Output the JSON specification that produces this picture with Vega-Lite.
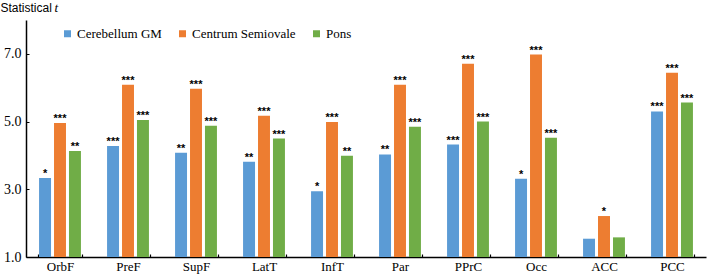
{
  "$schema": "https://vega.github.io/schema/vega-lite/v6.json",
  "width": 680,
  "height": 237,
  "autosize": {"type": "none"},
  "padding": {"left": 26, "top": 20, "right": 3, "bottom": 22},
  "background": "white",
  "config": {
    "view": {"stroke": null}
  },
  "data": {
    "values": [
      {"region": "OrbF", "group": "Cerebellum GM", "value": 3.33, "sig": "*"},
      {"region": "OrbF", "group": "Centrum Semiovale", "value": 4.96, "sig": "***"},
      {"region": "OrbF", "group": "Pons", "value": 4.13, "sig": "**"},
      {"region": "PreF", "group": "Cerebellum GM", "value": 4.28, "sig": "***"},
      {"region": "PreF", "group": "Centrum Semiovale", "value": 6.09, "sig": "***"},
      {"region": "PreF", "group": "Pons", "value": 5.05, "sig": "***"},
      {"region": "SupF", "group": "Cerebellum GM", "value": 4.08, "sig": "**"},
      {"region": "SupF", "group": "Centrum Semiovale", "value": 5.97, "sig": "***"},
      {"region": "SupF", "group": "Pons", "value": 4.88, "sig": "***"},
      {"region": "LatT", "group": "Cerebellum GM", "value": 3.81, "sig": "**"},
      {"region": "LatT", "group": "Centrum Semiovale", "value": 5.17, "sig": "***"},
      {"region": "LatT", "group": "Pons", "value": 4.5, "sig": "***"},
      {"region": "InfT", "group": "Cerebellum GM", "value": 2.94, "sig": "*"},
      {"region": "InfT", "group": "Centrum Semiovale", "value": 4.99, "sig": "***"},
      {"region": "InfT", "group": "Pons", "value": 3.99, "sig": "**"},
      {"region": "Par", "group": "Cerebellum GM", "value": 4.03, "sig": "**"},
      {"region": "Par", "group": "Centrum Semiovale", "value": 6.09, "sig": "***"},
      {"region": "Par", "group": "Pons", "value": 4.85, "sig": "***"},
      {"region": "PPrC", "group": "Cerebellum GM", "value": 4.32, "sig": "***"},
      {"region": "PPrC", "group": "Centrum Semiovale", "value": 6.71, "sig": "***"},
      {"region": "PPrC", "group": "Pons", "value": 5.0, "sig": "***"},
      {"region": "Occ", "group": "Cerebellum GM", "value": 3.31, "sig": "*"},
      {"region": "Occ", "group": "Centrum Semiovale", "value": 6.98, "sig": "***"},
      {"region": "Occ", "group": "Pons", "value": 4.52, "sig": "***"},
      {"region": "ACC", "group": "Cerebellum GM", "value": 1.54, "sig": ""},
      {"region": "ACC", "group": "Centrum Semiovale", "value": 2.21, "sig": "*"},
      {"region": "ACC", "group": "Pons", "value": 1.58, "sig": ""},
      {"region": "PCC", "group": "Cerebellum GM", "value": 5.3, "sig": "***"},
      {"region": "PCC", "group": "Centrum Semiovale", "value": 6.44, "sig": "***"},
      {"region": "PCC", "group": "Pons", "value": 5.56, "sig": "***"}
    ]
  },
  "encoding": {
    "x": {
      "field": "region",
      "type": "nominal",
      "sort": null,
      "scale": {"paddingInner": 0.34, "paddingOuter": 0.17},
      "axis": {
        "title": null,
        "labelAngle": 0,
        "labelFont": "Liberation Serif",
        "labelFontSize": 13,
        "labelColor": "black",
        "labelPadding": 6,
        "domainColor": "black",
        "domainWidth": 1.5,
        "tickColor": "black",
        "tickBand": "extent",
        "tickSize": -3,
        "tickWidth": 1.2
      }
    },
    "xOffset": {
      "field": "group",
      "type": "nominal",
      "sort": null,
      "scale": {"paddingInner": 0.2, "paddingOuter": 0.1}
    },
    "y": {
      "field": "value",
      "type": "quantitative",
      "scale": {"domain": [1, 8], "zero": false, "nice": false}
    }
  },
  "layer": [
    {
      "mark": {"type": "bar"},
      "encoding": {
        "y": {
          "field": "value",
          "type": "quantitative",
          "axis": {
            "values": [1, 3, 5, 7],
            "format": ".1f",
            "grid": false,
            "labelFont": "Liberation Serif",
            "labelFontSize": 14,
            "labelColor": "black",
            "labelPadding": 8,
            "domainColor": "black",
            "domainWidth": 1.5,
            "tickColor": "black",
            "tickSize": -3,
            "title": "Statistical",
            "titleFont": "Liberation Sans",
            "titleFontWeight": "normal",
            "titleFontSize": 12,
            "titleColor": "black",
            "titleAngle": 0,
            "titleAlign": "left",
            "titleBaseline": "alphabetic",
            "titleX": -26,
            "titleY": -9
          }
        },
        "y2": {"datum": 1},
        "color": {
          "field": "group",
          "type": "nominal",
          "sort": null,
          "scale": {
            "domain": ["Cerebellum GM", "Centrum Semiovale", "Pons"],
            "range": ["#5B9BD5", "#ED7D31", "#70AD47"]
          },
          "legend": {
            "title": null,
            "orient": "none",
            "legendX": 35,
            "legendY": 7,
            "direction": "horizontal",
            "symbolType": "square",
            "symbolSize": 49,
            "symbolStrokeWidth": 0,
            "labelFont": "Liberation Serif",
            "labelFontSize": 13,
            "labelColor": "black",
            "labelOffset": 3,
            "columnPadding": 14,
            "labelLimit": 200
          }
        }
      }
    },
    {
      "mark": {"type": "text", "baseline": "alphabetic", "dy": -1, "font": "Liberation Sans", "fontSize": 11, "fontWeight": "bold", "color": "black"},
      "encoding": {
        "text": {"field": "sig"},
        "y": {
          "field": "value",
          "type": "quantitative",
          "axis": {
            "orient": "left",
            "labels": false,
            "ticks": false,
            "domain": false,
            "grid": false,
            "title": "t",
            "titleFont": "Liberation Serif",
            "titleFontStyle": "italic",
            "titleFontWeight": "normal",
            "titleFontSize": 13,
            "titleColor": "black",
            "titleAngle": 0,
            "titleAlign": "left",
            "titleBaseline": "alphabetic",
            "titleX": 28,
            "titleY": -9
          }
        }
      }
    }
  ],
  "resolve": {"axis": {"y": "independent"}}
}
